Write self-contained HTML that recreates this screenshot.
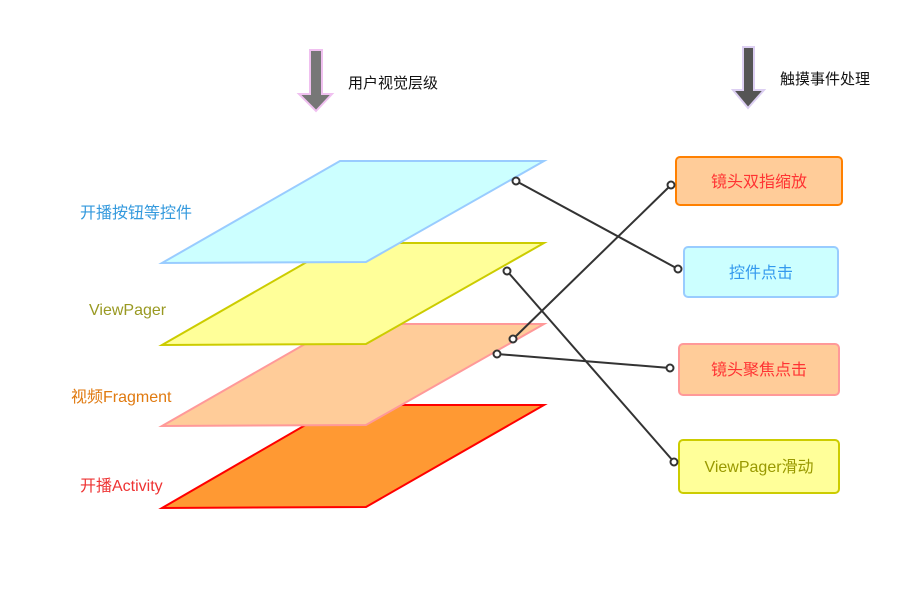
<!DOCTYPE html>
<html><head><meta charset="utf-8"><style>
html,body{margin:0;padding:0;background:#fff;}
svg{display:block;}
text{font-family:"Liberation Sans","Noto Sans CJK SC",sans-serif;}
</style></head><body>
<svg width="914" height="590" viewBox="0 0 914 590" xmlns="http://www.w3.org/2000/svg">
<rect width="914" height="590" fill="#fff"/>
<!-- arrows -->
<polygon points="310,50 322,50 322,94 332,94 316,111 299,94 310,94" fill="#777" stroke="#f0c0f0" stroke-width="2"/>
<text x="348" y="88" font-size="15" fill="#111">用户视觉层级</text>
<polygon points="743,47 754,47 754,90 764,90 748,108 733,90 743,90" fill="#555" stroke="#dccff2" stroke-width="2"/>
<text x="780" y="84" font-size="15" fill="#111">触摸事件处理</text>
<!-- planes bottom to top -->
<polygon points="340,405 544,405 366,507 162,508" fill="#ff9933" stroke="#ff0000" stroke-width="2"/>
<polygon points="340,324 544,324 366,425 162,426" fill="#ffcc99" stroke="#ff9999" stroke-width="2"/>
<polygon points="340,243 544,243 366,344 162,345" fill="#ffff99" stroke="#cccc00" stroke-width="2"/>
<polygon points="340,161 544,161 366,262 162,263" fill="#ccffff" stroke="#99ccff" stroke-width="2"/>
<!-- labels -->
<text x="80" y="218" font-size="16" fill="#3399dd">开播按钮等控件</text>
<text x="89" y="315" font-size="16" fill="#999922">ViewPager</text>
<text x="71" y="402" font-size="16" fill="#e07a10">视频Fragment</text>
<text x="80" y="491" font-size="16" fill="#ee3333">开播Activity</text>
<!-- boxes -->
<rect x="676" y="157" width="166" height="48" rx="4" fill="#ffcc99" stroke="#ff8000" stroke-width="2"/>
<text x="759" y="187" font-size="16" fill="#ff3333" text-anchor="middle">镜头双指缩放</text>
<rect x="684" y="247" width="154" height="50" rx="4" fill="#ccffff" stroke="#99ccff" stroke-width="2"/>
<text x="761" y="278" font-size="16" fill="#3399ee" text-anchor="middle">控件点击</text>
<rect x="679" y="344" width="160" height="51" rx="4" fill="#ffcc99" stroke="#ff9999" stroke-width="2"/>
<text x="759" y="375" font-size="16" fill="#ff3333" text-anchor="middle">镜头聚焦点击</text>
<rect x="679" y="440" width="160" height="53" rx="4" fill="#ffff99" stroke="#cccc00" stroke-width="2"/>
<text x="759" y="472" font-size="16" fill="#999900" text-anchor="middle">ViewPager滑动</text>
<!-- connectors -->
<g stroke="#333" stroke-width="2" fill="#fff">
<line x1="516" y1="181" x2="678" y2="269"/>
<line x1="507" y1="271" x2="674" y2="462"/>
<line x1="513" y1="339" x2="671" y2="185"/>
<line x1="497" y1="354" x2="670" y2="368"/>
<circle cx="516" cy="181" r="3.5"/><circle cx="678" cy="269" r="3.5"/>
<circle cx="507" cy="271" r="3.5"/><circle cx="674" cy="462" r="3.5"/>
<circle cx="513" cy="339" r="3.5"/><circle cx="671" cy="185" r="3.5"/>
<circle cx="497" cy="354" r="3.5"/><circle cx="670" cy="368" r="3.5"/>
</g>
</svg>
</body></html>
